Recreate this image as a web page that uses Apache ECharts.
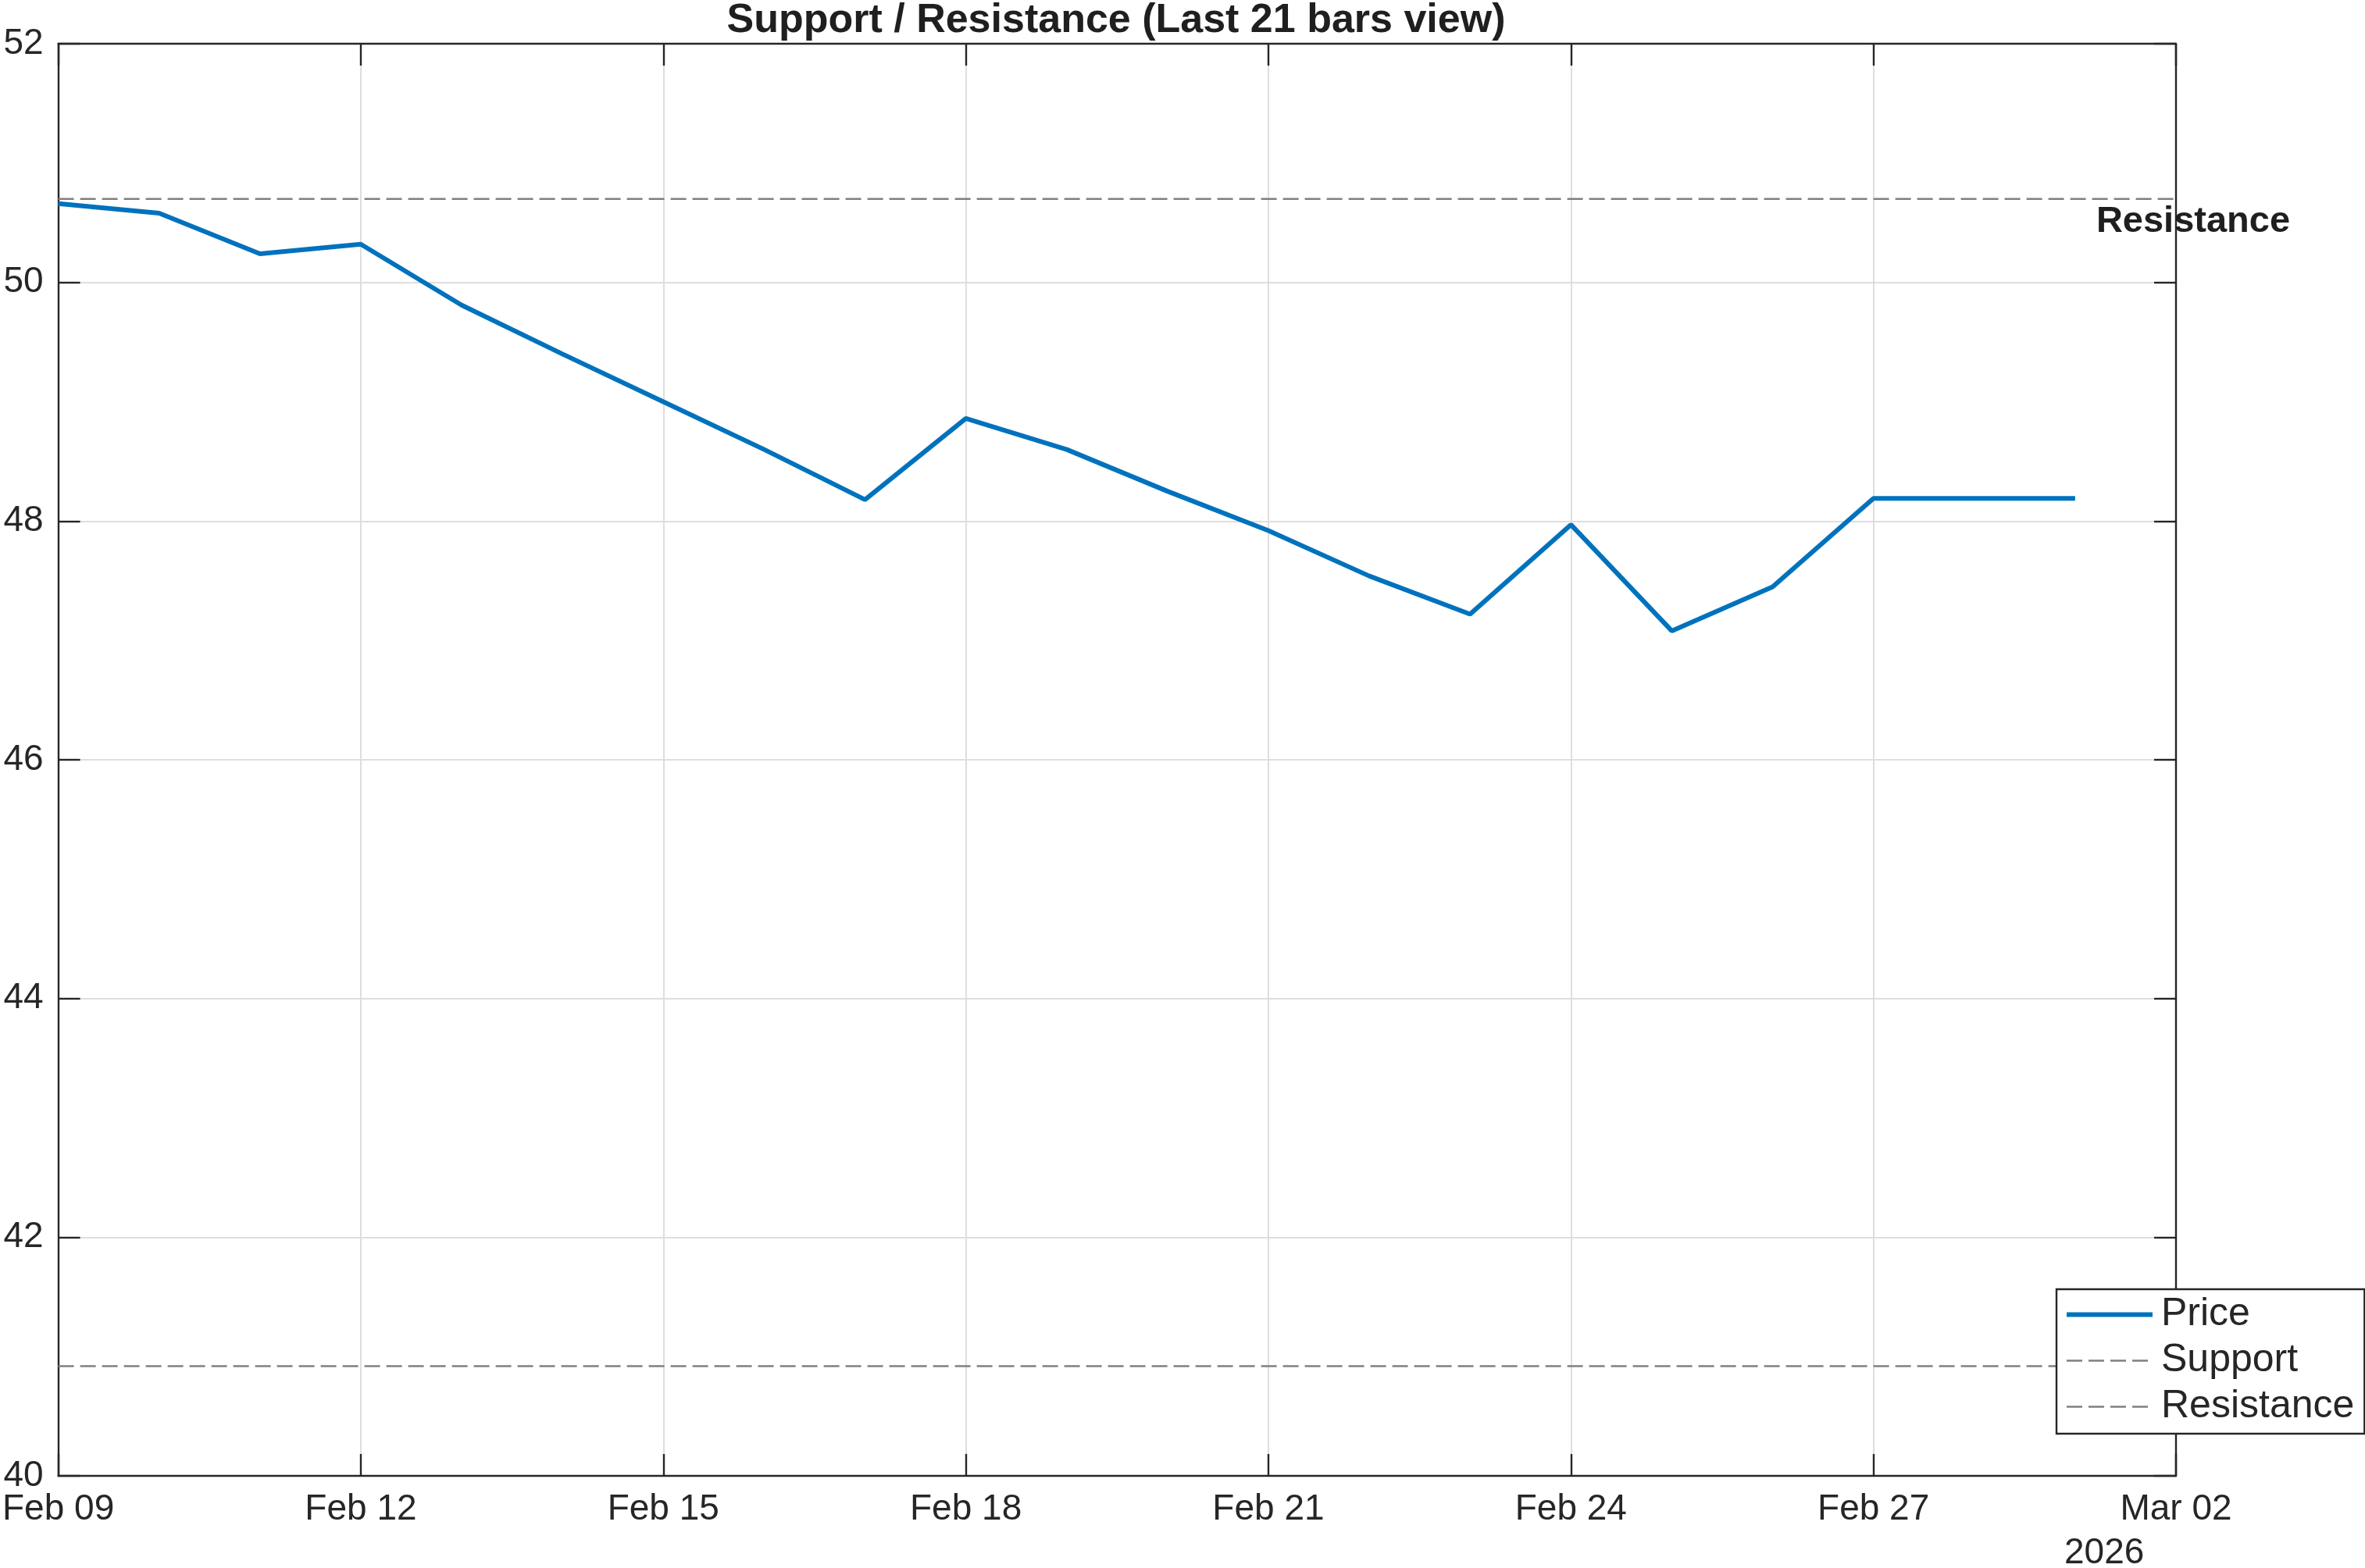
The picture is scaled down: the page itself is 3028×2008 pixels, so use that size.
<!DOCTYPE html>
<html>
<head>
<meta charset="utf-8">
<script src="https://cdn.jsdelivr.net/npm/echarts@6/dist/echarts.min.js"></script>
<style>
  html, body { margin: 0; padding: 0; background: #fff; }
  #main { width: 3028px; height: 2008px; }
</style>
</head>
<body>
<div id="main"></div>
<script>
// last 21 daily bars
const dates = [
  '2026-02-09', '2026-02-10', '2026-02-11', '2026-02-12', '2026-02-13', '2026-02-14', '2026-02-15',
  '2026-02-16', '2026-02-17', '2026-02-18', '2026-02-19', '2026-02-20', '2026-02-21', '2026-02-22',
  '2026-02-23', '2026-02-24', '2026-02-25', '2026-02-26', '2026-02-27', '2026-02-28', '2026-03-01'
]
const price = [
  50.66, 50.58, 50.24, 50.32, 49.81, 49.40, 49.00,
  48.60, 48.18, 48.86, 48.60, 48.25, 47.92, 47.54,
  47.22, 47.97, 47.08, 47.45, 48.19, 48.19, 48.19
]
const supportLevel = 40.92
const resistanceLevel = 50.70
const xTickLabels = ['Feb 09', 'Feb 12', 'Feb 15', 'Feb 18', 'Feb 21', 'Feb 24', 'Feb 27', 'Mar 02']
const yearLabel = '2026'

const DAY = 24 * 3600 * 1000
const t0 = Date.parse(dates[0])
const dayIdx = (d) => (Date.parse(d) - t0) / DAY
const xMax = 21 // Mar 02

const priceData = dates.map((d, i) => [dayIdx(d), price[i]])
const supportData = [[0, supportLevel], [xMax, supportLevel]]
const resistanceData = [[0, resistanceLevel], [xMax, resistanceLevel]]

const FONT = 'Liberation Sans, Arial, Helvetica, sans-serif'
const AX = '#262626'
const GRID = '#dedede'
const BLUE = '#0072BD'
const DASH = '#808080'

const axisCommon = {
  axisLine: { show: true, onZero: false, lineStyle: { color: AX, width: 2.4 } },
  axisTick: { show: true, inside: true, length: 28, lineStyle: { color: AX, width: 2.4 } }
}

const option = {
  animation: false,
  backgroundColor: '#fff',
  title: {
    text: 'Support / Resistance (Last 21 bars view)',
    left: 1429,
    top: 1,
    padding: 0,
    textAlign: 'center',
    textStyle: { fontFamily: FONT, fontSize: 52, fontWeight: 'bold', color: '#1f1f1f' }
  },
  grid: { left: 72, right: 242, top: 56, bottom: 118 },
  legend: {
    orient: 'vertical',
    left: 2633,
    top: 1651,
    padding: [3, 13, 5, 10],
    itemGap: 0,
    itemWidth: 110,
    itemHeight: 20,
    backgroundColor: '#fff',
    borderColor: AX,
    borderWidth: 2.4,
    borderRadius: 0,
    selectedMode: false,
    itemStyle: { opacity: 0, borderWidth: 0 },
    data: [
      { name: 'Price', lineStyle: { color: BLUE, width: 6 } },
      { name: 'Support', lineStyle: { color: DASH, width: 2.5, type: [20, 8] } },
      { name: 'Resistance', lineStyle: { color: DASH, width: 2.5, type: [20, 8] } }
    ],
    textStyle: { fontFamily: FONT, fontSize: 50, lineHeight: 59, color: AX, padding: [0, 0, 0, 6] }
  },
  xAxis: [
    {
      type: 'value',
      min: 0,
      max: xMax,
      interval: 3,
      position: 'bottom',
      ...axisCommon,
      axisLabel: {
        margin: 20,
        fontFamily: FONT,
        fontSize: 46,
        color: AX,
        formatter: (v) => xTickLabels[Math.round(v / 3)] || ''
      },
      splitLine: { show: true, lineStyle: { color: GRID, width: 2 } }
    },
    {
      type: 'value',
      min: 0,
      max: xMax,
      interval: 3,
      position: 'top',
      ...axisCommon,
      axisLabel: { show: false },
      splitLine: { show: false }
    }
  ],
  yAxis: [
    {
      type: 'value',
      min: 40,
      max: 52,
      interval: 2,
      position: 'left',
      ...axisCommon,
      axisLabel: { margin: 19, fontFamily: FONT, fontSize: 46, color: AX },
      splitLine: { show: true, lineStyle: { color: GRID, width: 2 } }
    },
    {
      type: 'value',
      min: 40,
      max: 52,
      interval: 2,
      position: 'right',
      ...axisCommon,
      axisLabel: { show: false },
      splitLine: { show: false }
    }
  ],
  graphic: [
    {
      type: 'text',
      left: 2643,
      top: 1966,
      style: { text: yearLabel, font: '46px ' + FONT, fill: AX }
    }
  ],
  series: [
    {
      name: 'Support',
      type: 'line',
      data: supportData,
      symbol: 'none',
      lineStyle: { color: DASH, width: 2.5, type: [20, 8] },
      itemStyle: { color: DASH },
      z: 3
    },
    {
      name: 'Resistance',
      type: 'line',
      data: resistanceData,
      symbol: 'none',
      lineStyle: { color: DASH, width: 2.5, type: [20, 8] },
      itemStyle: { color: DASH },
      z: 3
    },
    {
      name: 'Price',
      type: 'line',
      data: priceData,
      symbol: 'none',
      lineStyle: { color: BLUE, width: 6 },
      itemStyle: { color: BLUE },
      z: 4
    },
    {
      name: 'resLabel',
      type: 'scatter',
      data: [[dayIdx(dates[dates.length - 1]), resistanceLevel]],
      symbolSize: 0,
      silent: true,
      label: {
        show: true,
        formatter: 'Resistance',
        position: [27, 6],
        align: 'left',
        verticalAlign: 'top',
        fontFamily: FONT,
        fontSize: 47,
        fontWeight: 'bold',
        color: '#1f1f1f',
        textBorderWidth: 0,
        opacity: 1
      },
      z: 5
    }
  ]
}

const chart = echarts.init(document.getElementById('main'), null, { renderer: 'canvas' })
chart.setOption(option)
</script>
</body>
</html>
